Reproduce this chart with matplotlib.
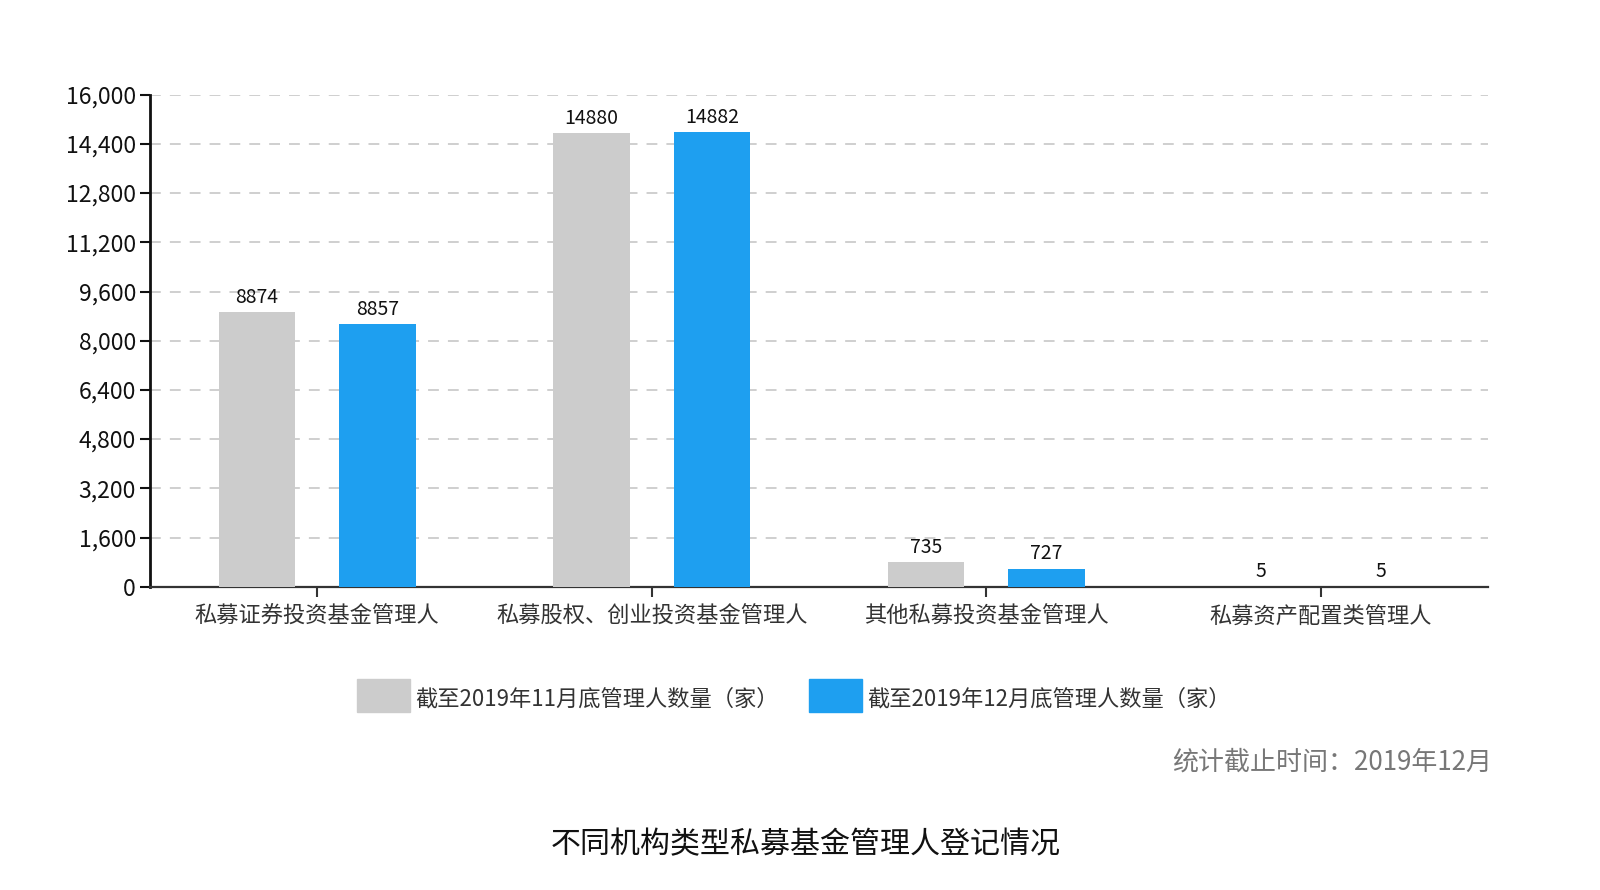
import matplotlib
matplotlib.use("Agg")
import matplotlib.pyplot as plt
from matplotlib.patches import Rectangle
from matplotlib.ticker import FuncFormatter
import numpy as np

plt.rcParams['font.family'] = ['Noto Sans CJK SC', 'DejaVu Sans']

categories = ["私募证券投资基金管理人", "私募股权、创业投资基金管理人", "其他私募投资基金管理人", "私募资产配置类管理人"]
series_names = ["截至2019年11月底管理人数量（家）", "截至2019年12月底管理人数量（家）"]
nov_values = [8874, 14880, 735, 5]
dec_values = [8857, 14882, 727, 5]
# bar heights as drawn in the reference picture
nov_heights = [8940, 14745, 810, 5]
dec_heights = [8530, 14775, 590, 5]
y_ticks = [0, 1600, 3200, 4800, 6400, 8000, 9600, 11200, 12800, 14400, 16000]
title = "不同机构类型私募基金管理人登记情况"
note = "统计截止时间：2019年12月"

gray = "#CCCCCC"
blue = "#1E9FF0"

W, H = 1600, 890
fig = plt.figure(figsize=(16, 8.9), dpi=100)
ax = fig.add_axes([150 / W, 1 - 586.7 / H, (1488 - 150) / W, (586.7 - 94.7) / H])

x = np.arange(len(categories))
off = 0.18
bw = 0.229
ax.bar(x - off, nov_heights, width=bw, color=gray, zorder=3)
ax.bar(x + off, dec_heights, width=bw, color=blue, zorder=3)

for xi, h, v in zip(x - off, nov_heights, nov_values):
    ax.annotate(str(v), (xi, h), xytext=(0, 3), textcoords="offset points",
                ha="center", va="bottom", fontsize=14, color="#111111")
for xi, h, v in zip(x + off, dec_heights, dec_values):
    ax.annotate(str(v), (xi, h), xytext=(0, 3), textcoords="offset points",
                ha="center", va="bottom", fontsize=14, color="#111111")

ax.set_xlim(-0.5, len(categories) - 0.5)
ax.set_ylim(0, 16000)
ax.set_yticks(y_ticks)
ax.yaxis.set_major_formatter(FuncFormatter(lambda v, p: f"{int(v):,}"))
ax.set_xticks(x)
ax.set_xticklabels(categories, fontsize=16, color="#333333")

ax.tick_params(axis="y", length=7, width=1.5, pad=3, labelsize=16.5, labelcolor="#111111", color="#111111")
ax.tick_params(axis="x", length=7, width=1.5, pad=6, color="#333333", direction="out")

ax.grid(axis="y", color="#CCCCCC", linestyle=(0, (6, 5)), linewidth=1.3, zorder=0)
ax.set_axisbelow(True)
for s in ["top", "right"]:
    ax.spines[s].set_visible(False)
ax.spines["left"].set_linewidth(2)
ax.spines["left"].set_color("#111111")
ax.spines["bottom"].set_linewidth(1.6)
ax.spines["bottom"].set_color("#333333")

# legend (manual)
for (x0, col, label, tx) in [(357, gray, series_names[0], 415), (809, blue, series_names[1], 867)]:
    fig.patches.append(Rectangle((x0 / W, 1 - 712 / H), 53 / W, 33 / H,
                                 transform=fig.transFigure, color=col, figure=fig))
    fig.text(tx / W, 1 - 699 / H, label, fontsize=16, color="#333333", ha="left", va="center")

fig.text(1492 / W, 1 - 762 / H, note, fontsize=18.7, color="#777777", ha="right", va="center")
fig.text(806 / W, 1 - 845 / H, title, fontsize=21.6, color="#111111", ha="center", va="center")

fig.savefig("out.png", dpi=100, facecolor="white")
